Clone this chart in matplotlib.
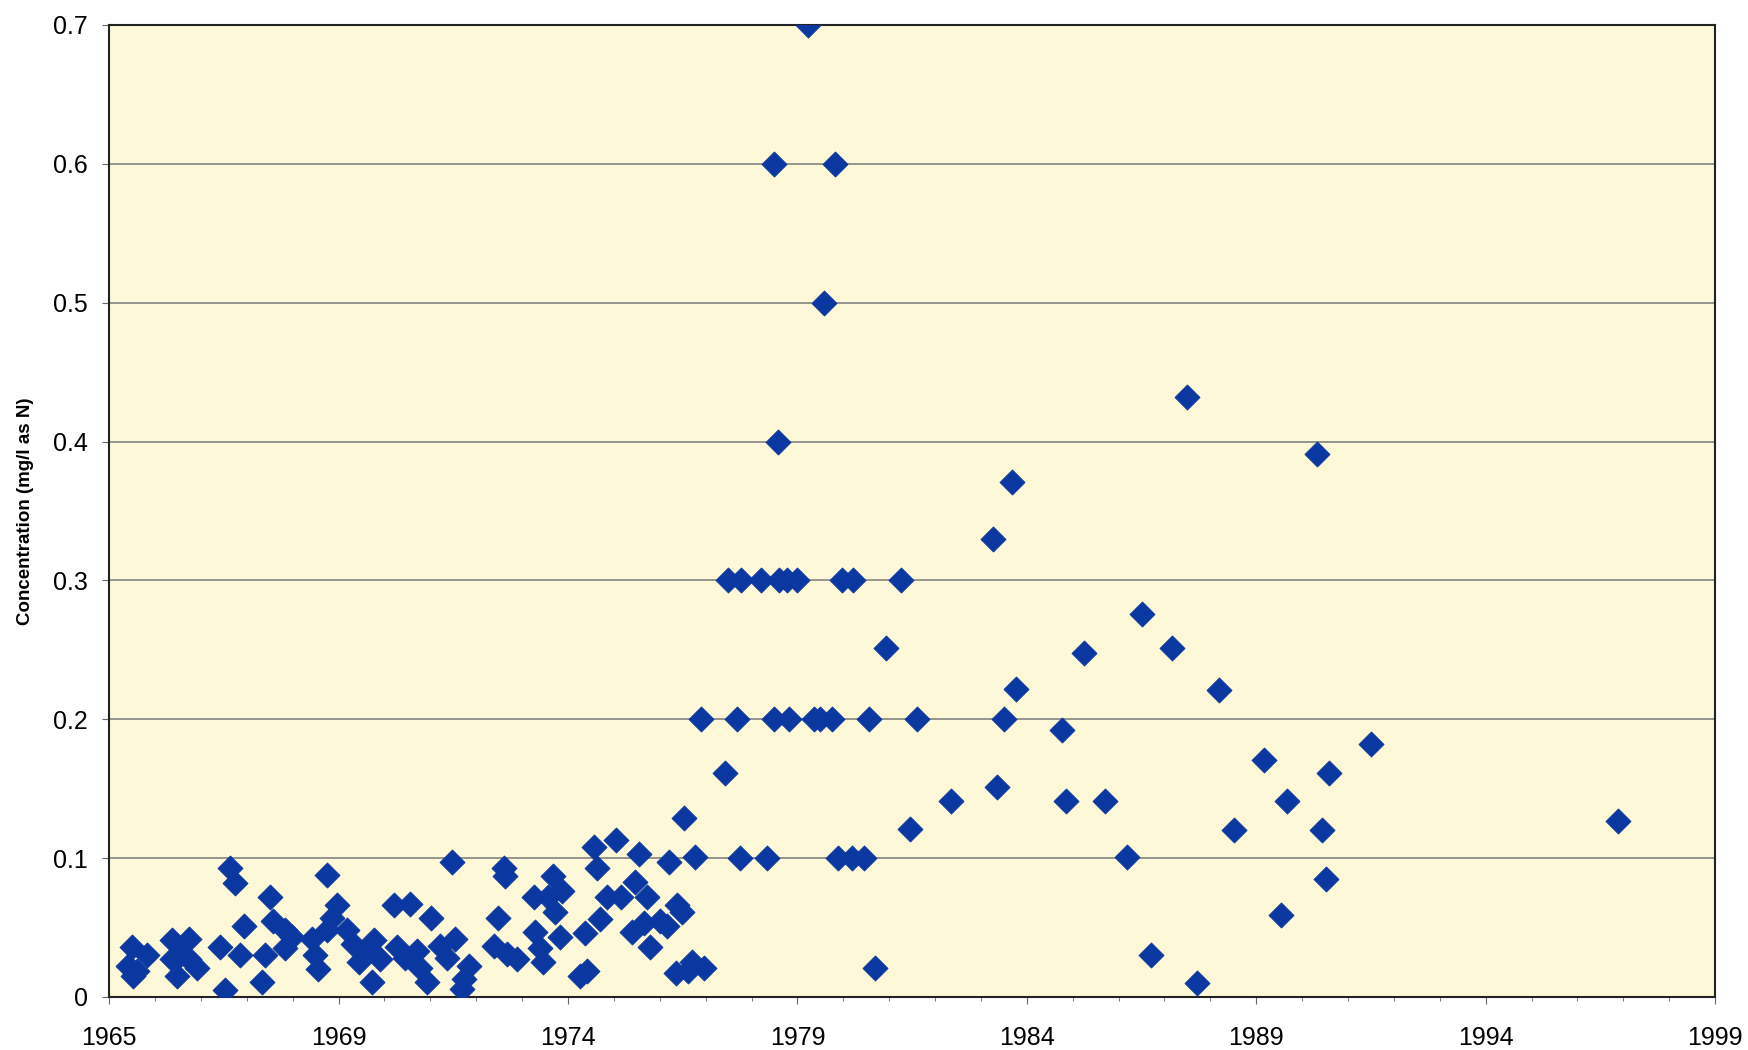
import datetime
import numpy as np
import matplotlib
matplotlib.use("Agg")
import matplotlib.pyplot as plt
import matplotlib.dates as mdates

plt.rcParams['font.family'] = ['Liberation Sans', 'DejaVu Sans']

# sample dates as decimal years, concentration in mg/l as N
years = [
    1965.42, 1965.49, 1965.52, 1965.60, 1965.82, 1966.36, 1966.36, 1966.47, 1966.55, 1966.73,
    1966.73, 1966.91, 1967.42, 1967.53, 1967.64, 1967.75, 1967.86, 1967.93, 1968.33, 1968.40,
    1968.51, 1968.58, 1968.84, 1968.84, 1968.98, 1969.42, 1969.49, 1969.56, 1969.74, 1969.74,
    1969.85, 1969.96, 1970.18, 1970.32, 1970.45, 1970.62, 1970.76, 1970.91, 1970.72, 1971.20,
    1971.27, 1971.56, 1971.45, 1971.71, 1971.78, 1971.92, 1972.00, 1972.21, 1972.36, 1972.47,
    1972.54, 1972.69, 1972.72, 1972.83, 1973.38, 1973.48, 1973.59, 1973.62, 1973.67, 1973.89,
    1974.25, 1974.28, 1974.39, 1974.46, 1974.55, 1974.66, 1974.72, 1974.83, 1974.87, 1975.26,
    1975.37, 1975.41, 1975.55, 1975.63, 1975.70, 1975.85, 1976.03, 1976.14, 1976.39, 1976.46,
    1976.54, 1976.64, 1976.72, 1976.79, 1977.00, 1977.15, 1977.19, 1977.34, 1977.37, 1977.48,
    1977.51, 1977.69, 1977.60, 1977.95, 1977.77,
    1978.75, 1979.33, 1980.88, 1981.17, 1981.43,
    1977.88, 1978.68, 1979.48, 1979.80, 1980.35, 1980.49, 1980.75, 1981.55, 1982.60,
    1978.47, 1978.77, 1979.19, 1979.58, 1979.77, 1979.99, 1980.97, 1981.21, 1982.24,
    1978.42, 1979.57, 1979.47, 1980.80, 1980.56, 1980.21, 1981.69, 1981.93, 1982.44, 1983.34,
    1984.26, 1984.33, 1984.50, 1984.74, 1984.66, 1985.76, 1985.85, 1986.24, 1986.68, 1987.17,
    1987.50, 1987.68, 1988.15, 1988.48, 1988.70, 1989.17, 1989.50, 1990.15, 1990.52, 1990.65,
    1991.31, 1991.42, 1991.50, 1991.57, 1992.49, 1997.85,
]
conc = [
    0.022, 0.036, 0.015, 0.019, 0.030, 0.041, 0.027, 0.015, 0.030, 0.042,
    0.027, 0.021, 0.036, 0.005, 0.093, 0.082, 0.030, 0.051, 0.011, 0.030,
    0.072, 0.055, 0.048, 0.035, 0.043, 0.042, 0.030, 0.020, 0.088, 0.048,
    0.057, 0.066, 0.048, 0.038, 0.025, 0.033, 0.041, 0.027, 0.011, 0.066,
    0.036, 0.067, 0.028, 0.033, 0.021, 0.011, 0.057, 0.037, 0.028, 0.097,
    0.042, 0.006, 0.013, 0.022, 0.037, 0.057, 0.093, 0.087, 0.031, 0.027,
    0.072, 0.047, 0.035, 0.025, 0.072, 0.087, 0.061, 0.043, 0.076, 0.015,
    0.046, 0.019, 0.108, 0.093, 0.056, 0.072, 0.113, 0.072, 0.047, 0.083,
    0.103, 0.053, 0.072, 0.036, 0.055, 0.051, 0.097, 0.017, 0.066, 0.061,
    0.129, 0.025, 0.019, 0.021, 0.101,
    0.1, 0.1, 0.1, 0.1, 0.1,
    0.2, 0.2, 0.2, 0.2, 0.2, 0.2, 0.2, 0.2, 0.2,
    0.3, 0.3, 0.3, 0.3, 0.3, 0.3, 0.3, 0.3, 0.3,
    0.161, 0.4, 0.6, 0.6, 0.5, 0.7, 0.021, 0.251, 0.121, 0.141,
    0.330, 0.151, 0.2, 0.222, 0.371, 0.192, 0.141, 0.248, 0.141, 0.101,
    0.276, 0.030, 0.251, 0.432, 0.010, 0.221, 0.120, 0.171, 0.059, 0.141,
    0.391, 0.120, 0.085, 0.161, 0.182, 0.127,
]

y_ticks = [0, 0.1, 0.2, 0.3, 0.4, 0.5, 0.6, 0.7]
y_labels = ['0', '0.1', '0.2', '0.3', '0.4', '0.5', '0.6', '0.7']

base = mdates.date2num(datetime.datetime(1965, 1, 1))
x = base + (np.array(years) - 1965) * 365.25

fig = plt.figure(figsize=(17.48, 10.5), dpi=100)
ax = fig.add_axes([0.0624, 0.0505, 0.9188, 0.9257])
ax.set_facecolor('#fdf9d8')

ax.scatter(x, conc, marker='D', s=165, color='#0a37a0', edgecolors='#0a37a0',
           linewidths=0.5, zorder=3)

# Excel-style date axis: 1825-day major unit, 365-day minor unit
ax.set_xlim(base, base + 7 * 1825)
ax.set_xticks([base + 1825 * k for k in range(8)])
ax.set_xticks([base + 365 * k for k in range(36)], minor=True)
ax.xaxis.set_major_formatter(mdates.DateFormatter('%Y'))

ax.set_ylim(0, 0.7)
ax.set_yticks(y_ticks)
ax.set_yticklabels(y_labels)
ax.yaxis.grid(True, color='#7a7a7a', linewidth=1.1)
ax.set_axisbelow(True)

for s in ax.spines.values():
    s.set_color('#222222')
    s.set_linewidth(1.5)

ax.tick_params(axis='both', which='major', labelsize=18, length=5, color='#666666')
ax.tick_params(axis='x', which='major', pad=16)
ax.tick_params(axis='y', which='major', pad=10)
ax.tick_params(axis='x', which='minor', length=3, color='#666666')

ax.set_ylabel('Concentration (mg/l as N)', fontsize=13.5, fontweight='bold', labelpad=14)

fig.savefig('out.png', dpi=100)
